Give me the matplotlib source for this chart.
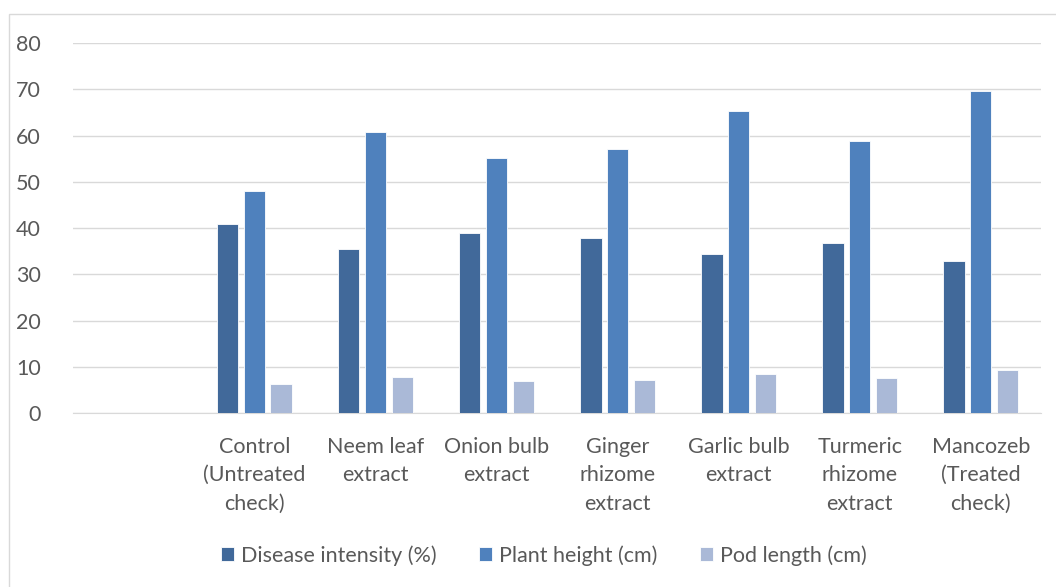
import numpy as np
import matplotlib.pyplot as plt
from matplotlib.patches import Rectangle

plt.rcParams['font.family'] = ['Lato', 'DejaVu Sans']

# Categories (first slot of the chart is empty)
categories = ['', 'Control\n(Untreated\ncheck)', 'Neem leaf\nextract', 'Onion bulb\nextract',
              'Ginger\nrhizome\nextract', 'Garlic bulb\nextract', 'Turmeric\nrhizome\nextract',
              'Mancozeb\n(Treated\ncheck)']
disease_intensity = [np.nan, 40.8, 35.5, 39.0, 37.9, 34.4, 36.7, 32.8]
plant_height = [np.nan, 48.1, 60.8, 55.2, 57.0, 65.4, 58.8, 69.6]
pod_length = [np.nan, 6.2, 7.8, 6.9, 7.1, 8.5, 7.5, 9.4]

series_names = ['Disease intensity (%)', 'Plant height (cm)', 'Pod length (cm)']
colors = ['#41699A', '#4F81BD', '#AAB9D7']

fig = plt.figure(figsize=(10.56, 5.87), dpi=100)
# light chart border
fig.patches.append(Rectangle((0.0085, -0.01), 1.0, 0.987, transform=fig.transFigure,
                             fill=False, edgecolor='#D9D9D9', linewidth=1.0))

ax = fig.add_axes([0.069, 0.2964, 0.917, 0.6303])
x = np.arange(len(categories))
w = 0.175
offsets = [-0.22, 0.0, 0.22]
for vals, off, col, name in zip([disease_intensity, plant_height, pod_length], offsets, colors, series_names):
    ax.bar(x + off, vals, width=w, color=col, edgecolor='white', linewidth=0.6, label=name, zorder=3)

ax.set_xlim(-0.5, len(categories) - 0.5)
ax.set_ylim(0, 80)
ax.set_yticks(range(0, 81, 10))
ax.yaxis.grid(True, color='#D9D9D9', linewidth=1.0, zorder=0)
for s in ['top', 'right', 'left']:
    ax.spines[s].set_visible(False)
ax.spines['bottom'].set_color('#D9D9D9')
ax.tick_params(axis='both', length=0, labelsize=15.5, labelcolor='#595959')
ax.tick_params(axis='y', pad=23)
ax.tick_params(axis='x', pad=17)
ax.set_xticks(x)
ax.set_xticklabels(categories, linespacing=1.53)

leg = fig.legend(loc='center', bbox_to_anchor=(0.515, 0.054), ncol=3, frameon=False,
                 fontsize=15.5, handlelength=0.6, handleheight=0.6, handletextpad=0.3,
                 columnspacing=2.0)
for t in leg.get_texts():
    t.set_color('#595959')

fig.savefig('out.png', dpi=100)
